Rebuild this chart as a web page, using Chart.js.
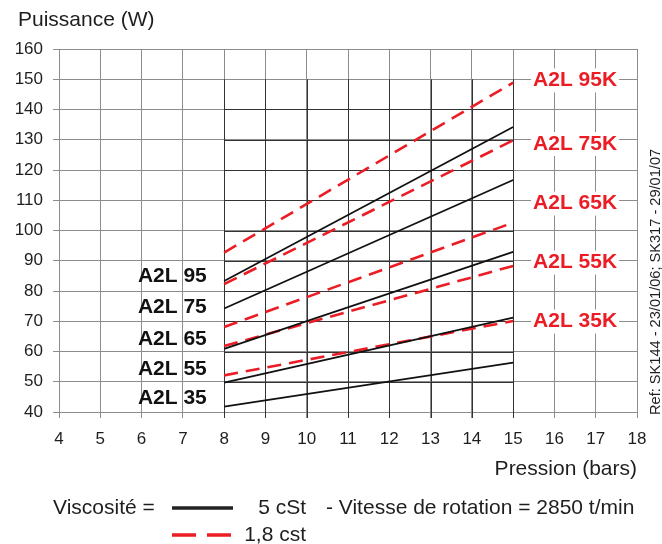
<!DOCTYPE html>
<html>
<head>
<meta charset="utf-8">
<script src="https://cdn.jsdelivr.net/npm/chart.js@4.4.1/dist/chart.umd.min.js"></script>
<style>
  html, body { margin: 0; padding: 0; background: #fff; }
  #box { width: 662px; height: 544px; position: relative; }
</style>
</head>
<body>
<div id="box"><canvas id="chart_puissance"></canvas></div>
<script>
// pression (bars) aux extremites des courbes
var pression = [8, 15];

// 5 cSt (traits noirs)
var noir95 = [83.3, 134.2];
var noir75 = [74.2, 116.7];
var noir65 = [60.9, 92.9];
var noir55 = [49.7, 71.2];
var noir35 = [41.8, 56.3];

// 1,8 cst (tirets rouges)
var rouge95 = [92.7, 148.9];
var rouge75 = [82.3, 129.8];
var rouge65 = [68.1, 102.6];
var rouge55 = [61.8, 88.3];
var rouge35 = [52.1, 70.1];

var nomsNoirs = ['A2L 95', 'A2L 75', 'A2L 65', 'A2L 55', 'A2L 35'];
var nomsRouges = ['A2L 95K', 'A2L 75K', 'A2L 65K', 'A2L 55K', 'A2L 35K'];

var xTicks = [4, 5, 6, 7, 8, 9, 10, 11, 12, 13, 14, 15, 16, 17, 18];
var yTicks = [40, 50, 60, 70, 80, 90, 100, 110, 120, 130, 140, 150, 160];

var ROUGE = '#ec1c24';
var TEXTE = '#1e1e1e';
var POLICE = '"Liberation Sans", Arial, sans-serif';

function points(vals) {
    return pression.map(function(p, i) { return {x: p, y: vals[i]}; });
}
function serieNoire(label, vals) {
    return { label: label, data: points(vals), borderColor: '#111', borderWidth: 1.8, pointRadius: 0, tension: 0 };
}
function serieRouge(label, vals) {
    return { label: label, data: points(vals), borderColor: ROUGE, borderWidth: 2.6, borderDash: [14, 8], pointRadius: 0, tension: 0 };
}

var chart_puissance = new Chart(document.getElementById('chart_puissance'), {
    type: 'line',
    data: {
        datasets: [
            serieNoire(nomsNoirs[0], noir95),
            serieNoire(nomsNoirs[1], noir75),
            serieNoire(nomsNoirs[2], noir65),
            serieNoire(nomsNoirs[3], noir55),
            serieNoire(nomsNoirs[4], noir35),
            serieRouge(nomsRouges[0], rouge95),
            serieRouge(nomsRouges[1], rouge75),
            serieRouge(nomsRouges[2], rouge65),
            serieRouge(nomsRouges[3], rouge55),
            serieRouge(nomsRouges[4], rouge35)
        ]
    },
    options: {
        animation: false,
        responsive: true,
        maintainAspectRatio: false,
        layout: { padding: { top: 49, right: 25, left: 0, bottom: 62 } },
        plugins: {
            legend: { display: false },
            tooltip: { enabled: false }
        },
        scales: {
            x: {
                type: 'linear',
                min: 4,
                max: 18,
                afterBuildTicks: function(scale) {
                    scale.ticks = xTicks.map(function(v) { return {value: v}; });
                },
                afterFit: function(scale) { scale.height = 70; },
                ticks: { color: TEXTE, font: { family: POLICE, size: 17 }, padding: 11, maxRotation: 0, autoSkip: false },
                grid: { color: '#8c8c8c', lineWidth: 1, tickLength: 6 },
                border: { display: false },
                title: {
                    display: true,
                    text: 'Pression (bars)',
                    align: 'end',
                    color: TEXTE,
                    font: { family: POLICE, size: 21 },
                    padding: { top: 2, bottom: 0 }
                }
            },
            y: {
                type: 'linear',
                min: 40,
                max: 160,
                afterBuildTicks: function(scale) {
                    scale.ticks = yTicks.map(function(v) { return {value: v}; });
                },
                afterFit: function(scale) { scale.width = 59; },
                ticks: { color: TEXTE, font: { family: POLICE, size: 17 }, padding: 10 },
                grid: { color: '#8c8c8c', lineWidth: 1, tickLength: 6 },
                border: { display: false }
            }
        }
    },
    plugins: [{
        id: 'fondBlanc',
        beforeDraw: function(chart) {
            var ctx = chart.ctx;
            ctx.save();
            ctx.fillStyle = 'white';
            ctx.fillRect(0, 0, chart.width, chart.height);
            ctx.restore();
        }
    }, {
        // grille plus foncee dans la zone des courbes
        id: 'grilleInterne',
        beforeDatasetsDraw: function(chart) {
            var ctx = chart.ctx, sx = chart.scales.x, sy = chart.scales.y;
            ctx.save();
            ctx.strokeStyle = '#333';
            ctx.lineWidth = 1;
            ctx.beginPath();
            for (var p = 8; p <= 15; p++) {
                var px = Math.round(sx.getPixelForValue(p)) + 0.5;
                ctx.moveTo(px, sy.getPixelForValue(150));
                ctx.lineTo(px, sy.getPixelForValue(40) + 6);
            }
            for (var v = 50; v <= 140; v += 10) {
                var py = Math.round(sy.getPixelForValue(v)) + 0.5;
                ctx.moveTo(sx.getPixelForValue(8), py);
                ctx.lineTo(sx.getPixelForValue(15), py);
            }
            ctx.stroke();
            ctx.restore();
        }
    }, {
        id: 'textes',
        afterDatasetsDraw: function(chart) {
            var ctx = chart.ctx, sx = chart.scales.x, sy = chart.scales.y;
            ctx.save();
            ctx.textBaseline = 'middle';

            // noms a gauche
            var yGauche = [84.8, 74.5, 64.1, 54.2, 44.6];
            ctx.font = 'bold 21px ' + POLICE;
            ctx.fillStyle = '#111';
            ctx.textAlign = 'right';
            nomsNoirs.forEach(function(n, i) {
                ctx.fillText(n, sx.getPixelForValue(7.58), sy.getPixelForValue(yGauche[i]));
            });

            // noms a droite, fond blanc
            var yDroite = [149.6, 128.6, 108.9, 89.4, 69.9];
            ctx.textAlign = 'center';
            nomsRouges.forEach(function(n, i) {
                var cx = sx.getPixelForValue(16.5), cy = sy.getPixelForValue(yDroite[i]);
                var w = ctx.measureText(n).width;
                ctx.fillStyle = 'white';
                ctx.fillRect(cx - w / 2 - 2, cy - 12, w + 4, 24);
                ctx.fillStyle = ROUGE;
                ctx.fillText(n, cx, cy);
            });

            // titre axe Y
            ctx.fillStyle = TEXTE;
            ctx.textAlign = 'left';
            ctx.font = '21px ' + POLICE;
            ctx.fillText('Puissance (W)', 18, 20);

            // legende
            ctx.fillText('Viscosité =', 53, 508);
            ctx.fillText('- Vitesse de rotation = 2850 t/min', 326, 508);
            ctx.textAlign = 'right';
            ctx.fillText('5 cSt', 306, 508);
            ctx.fillText('1,8 cst', 306, 535);

            ctx.lineWidth = 3.5;
            ctx.strokeStyle = '#222';
            ctx.beginPath(); ctx.moveTo(172, 508); ctx.lineTo(233, 508); ctx.stroke();
            ctx.strokeStyle = ROUGE;
            ctx.setLineDash([24, 11]);
            ctx.beginPath(); ctx.moveTo(172, 535); ctx.lineTo(233, 535); ctx.stroke();
            ctx.setLineDash([]);

            // reference verticale
            ctx.translate(656, 415);
            ctx.rotate(-Math.PI / 2);
            ctx.textAlign = 'left';
            ctx.font = '14.6px ' + POLICE;
            ctx.fillText('Ref: SK144 - 23/01/06; SK317 - 29/01/07', 0, 0);
            ctx.restore();
        }
    }]
});
</script>
</body>
</html>
